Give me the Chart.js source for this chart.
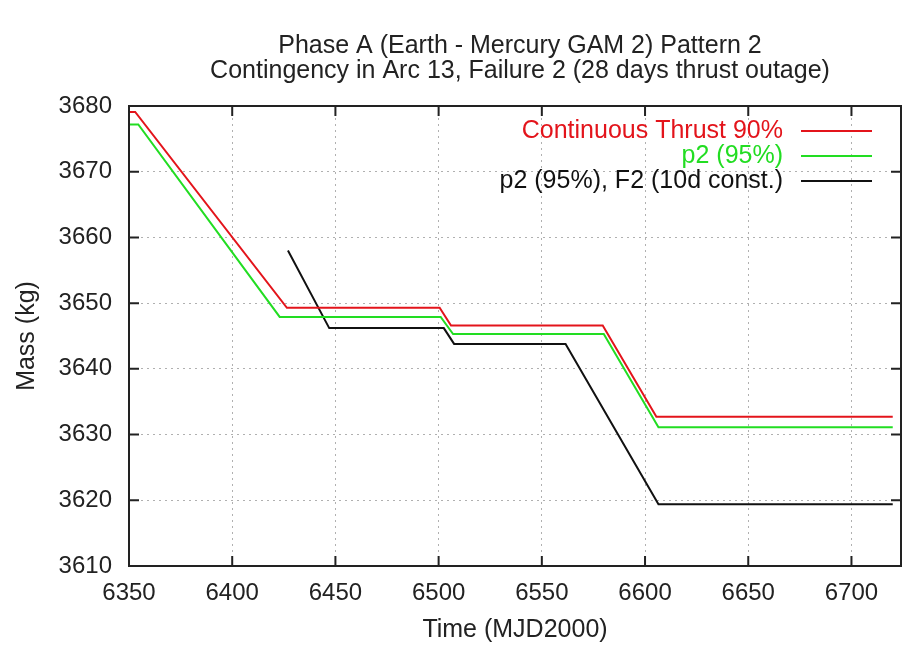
<!DOCTYPE html>
<html lang="en">
<head>
  <meta charset="UTF-8">
  <title>Phase A Pattern 2 - Contingency Arc 13</title>
  <script src="https://cdn.jsdelivr.net/npm/chart.js"></script>
  <style>
    * { box-sizing: border-box; }
    body { margin: 0; background: #fff; }
    #wrap { width: 903px; height: 645px; position: relative; }
  </style>
</head>
<body>
  <div id="wrap"><canvas id="massChart"></canvas></div>
  <script>
    // data (time in MJD2000, mass in kg)
    const titleLines = ['Phase A (Earth - Mercury GAM 2) Pattern 2', 'Contingency in Arc 13, Failure 2 (28 days thrust outage)'];
    const seriesNames = ['Continuous Thrust 90%', 'p2 (95%)', 'p2 (95%), F2 (10d const.)'];
    const seriesColors = ['#e3141b', '#22dd22', '#111111'];
    const redTime = [6350, 6353, 6426.5, 6500.5, 6506, 6579.5, 6605.5, 6720];
    const redMass = [3679.1, 3679.1, 3649.3, 3649.3, 3646.6, 3646.6, 3632.7, 3632.7];
    const greenTime = [6350, 6354.5, 6423, 6501, 6507, 6580, 6606.5, 6720];
    const greenMass = [3677.2, 3677.2, 3647.9, 3647.9, 3645.3, 3645.3, 3631.1, 3631.1];
    const blackTime = [6427, 6447, 6502.5, 6507.5, 6561.5, 6606.5, 6720];
    const blackMass = [3658, 3646.2, 3646.2, 3643.8, 3643.8, 3619.4, 3619.4];
    const xMin = 6350, xMax = 6724, xStep = 50;
    const yMin = 3610, yMax = 3680, yStep = 10;

    const FONT = "'Liberation Sans', Arial, sans-serif";
    const pts = (xs, ys) => xs.map((x, i) => ({ x, y: ys[i] }));
    const seriesData = [pts(redTime, redMass), pts(greenTime, greenMass), pts(blackTime, blackMass)];

    // gnuplot-like frame: border box, inward ticks on all four sides, title and key
    const gnuplotFrame = {
      id: 'gnuplotFrame',
      afterDatasetsDraw(chart) {
        const { ctx, chartArea: a, scales: { x, y } } = chart;
        ctx.save();
        ctx.strokeStyle = '#222'; ctx.lineWidth = 2;
        ctx.strokeRect(a.left, a.top, a.right - a.left, a.bottom - a.top);
        ctx.beginPath();
        x.ticks.forEach(t => {
          const px = x.getPixelForValue(t.value);
          ctx.moveTo(px, a.bottom); ctx.lineTo(px, a.bottom - 10);
          ctx.moveTo(px, a.top); ctx.lineTo(px, a.top + 10);
        });
        y.ticks.forEach(t => {
          const py = y.getPixelForValue(t.value);
          ctx.moveTo(a.left, py); ctx.lineTo(a.left + 10, py);
          ctx.moveTo(a.right, py); ctx.lineTo(a.right - 10, py);
        });
        ctx.stroke();
        // title
        ctx.fillStyle = '#222'; ctx.textAlign = 'center'; ctx.textBaseline = 'middle';
        ctx.font = '25px ' + FONT;
        const cx = (a.left + a.right) / 2 + 5;
        ctx.fillText(titleLines[0], cx, 46);
        ctx.fillText(titleLines[1], cx, 71);
        // key, text right aligned then sample line
        ctx.font = '25px ' + FONT; ctx.textAlign = 'right';
        chart.data.datasets.forEach((ds, i) => {
          const ry = 131 + i * 25;
          ctx.fillStyle = i < 2 ? ds.borderColor : '#111';
          ctx.fillText(ds.label, 783, ry);
          ctx.strokeStyle = ds.borderColor; ctx.lineWidth = 2;
          ctx.beginPath(); ctx.moveTo(801, ry); ctx.lineTo(872, ry); ctx.stroke();
        });
        ctx.restore();
      }
    };

    const gridStyle = { color: '#b0b0b0', lineWidth: 1, drawTicks: false };
    const plain = v => String(v);

    new Chart(document.getElementById('massChart'), {
      type: 'line',
      data: {
        datasets: seriesData.map((d, i) => ({
          label: seriesNames[i], data: d, borderColor: seriesColors[i],
          borderWidth: 2, pointRadius: 0, tension: 0, fill: false
        }))
      },
      options: {
        responsive: true, maintainAspectRatio: false, animation: false,
        layout: { padding: { top: 106, right: 2, left: 0, bottom: 0 } },
        plugins: { legend: { display: false }, title: { display: false }, tooltip: { enabled: false } },
        scales: {
          x: {
            type: 'linear', min: xMin, max: xMax,
            border: { display: false, dash: [2, 4] },
            grid: gridStyle,
            ticks: { stepSize: xStep, includeBounds: false, padding: 13, color: '#222', font: { family: FONT, size: 24 }, maxRotation: 0, callback: plain },
            title: { display: true, text: 'Time (MJD2000)', color: '#222', font: { family: FONT, size: 25 }, padding: { top: 13, bottom: 0 } },
            afterFit: s => { s.height = 79; }
          },
          y: {
            min: yMin, max: yMax,
            border: { display: false, dash: [2, 4] },
            grid: gridStyle,
            ticks: { stepSize: yStep, padding: 17, color: '#222', font: { family: FONT, size: 24 }, callback: plain },
            title: { display: true, text: 'Mass (kg)', color: '#222', font: { family: FONT, size: 25 }, padding: { top: 12 } },
            afterFit: s => { s.width = 129; }
          }
        }
      },
      plugins: [gnuplotFrame]
    });
  </script>
</body>
</html>
